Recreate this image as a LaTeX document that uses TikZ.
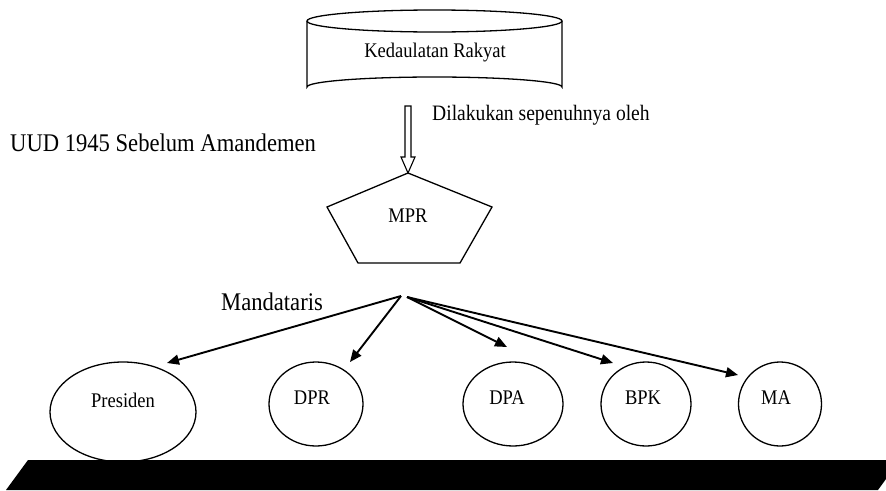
\documentclass[tikz,border=0pt]{standalone}
\usepackage{fontspec}
\usepackage{graphicx}
\setmainfont{Liberation Serif}
\usetikzlibrary{arrows.meta,shapes.geometric}
\newcommand{\cnd}[1]{\scalebox{0.89}[1]{#1}}
\begin{document}
\begin{tikzpicture}[x=1pt,y=-1pt,
  shapeline/.style={draw=black,line width=1.3pt},
  oval/.style={shapeline,ellipse,minimum width=#1,inner sep=0pt},
  lbl/.style={font=\fontsize{20.8}{22}\selectfont,inner sep=0pt},
  big/.style={font=\fontsize{25.4}{27}\selectfont,inner sep=0pt},
  mid/.style={font=\fontsize{22}{24}\selectfont,inner sep=0pt},
  arr/.style={line width=1.9pt,-{Triangle[length=12pt,width=10pt]}}]
\useasboundingbox (0,0) rectangle (886,490);
% cylinder
\draw[shapeline] (307,21) -- (307,87) arc[start angle=180,end angle=360,x radius=127.5,y radius=10] -- (562,21);
\draw[shapeline] (434.5,21) ellipse[x radius=127.5,y radius=11];
\node[lbl] (kr) at (435,53) {\cnd{Kedaulatan Rakyat}};
\node[mid,anchor=west] (dil) at (432,115) {\cnd{Dilakukan sepenuhnya oleh}};
\node[big,anchor=west] (uud) at (10,143) {\cnd{UUD 1945 Sebelum Amandemen}};
% hollow arrow
\draw[line width=1.1pt,fill=white] (405,106) -- (405,157) -- (401,157) -- (408,173) -- (415,157) -- (411,157) -- (411,106) -- cycle;
% pentagon
\coordinate (pt) at (408,173);
\coordinate (pl) at (327,207);
\coordinate (pr) at (492,207);
\coordinate (pbl) at (358,263);
\coordinate (pbr) at (460,263);
\draw[shapeline] (pt) -- (pr) -- (pbr) -- (pbl) -- (pl) -- cycle;
\node[lbl] (mpr) at (408,216) {\cnd{MPR}};
\node[big] (mand) at (272,302) {\cnd{Mandataris}};
% ellipses
\node[oval=146pt,minimum height=100pt] (pres) at (123,412) {};
\node[lbl] (prest) at (123,400) {\cnd{Presiden}};
\node[oval=94pt,minimum height=84pt] (dpr) at (316,404) {};
\node[lbl] (dprt) at (312,398) {\cnd{DPR}};
\node[oval=100pt,minimum height=84pt] (dpa) at (513,404) {};
\node[lbl] (dpat) at (507,398) {\cnd{DPA}};
\node[oval=90pt,minimum height=84pt] (bpk) at (646,404) {};
\node[lbl] (bpkt) at (643,398) {\cnd{BPK}};
\node[oval=83pt,minimum height=84pt] (ma) at (780,404) {};
\node[lbl] (mat) at (776,398) {\cnd{MA}};
% bar (covers ellipse bottom)
\fill[black] (28,460) -- (886,460) -- (886,479) -- (878,490) -- (6,490) -- cycle;
% arrows
\coordinate (hub) at (401,296);
\coordinate (hub2) at (407,297);
\coordinate (tpres) at (167,363);
\coordinate (tdpr) at (350,362);
\coordinate (tdpa) at (507,347);
\coordinate (tbpk) at (613,363);
\coordinate (tma) at (738,375);
\draw[arr] (hub) -- (tpres);
\draw[arr] (hub) -- (tdpr);
\draw[arr] (hub2) -- (tdpa);
\draw[arr] (hub2) -- (tbpk);
\draw[arr] (hub2) -- (tma);
\end{tikzpicture}
\end{document}
